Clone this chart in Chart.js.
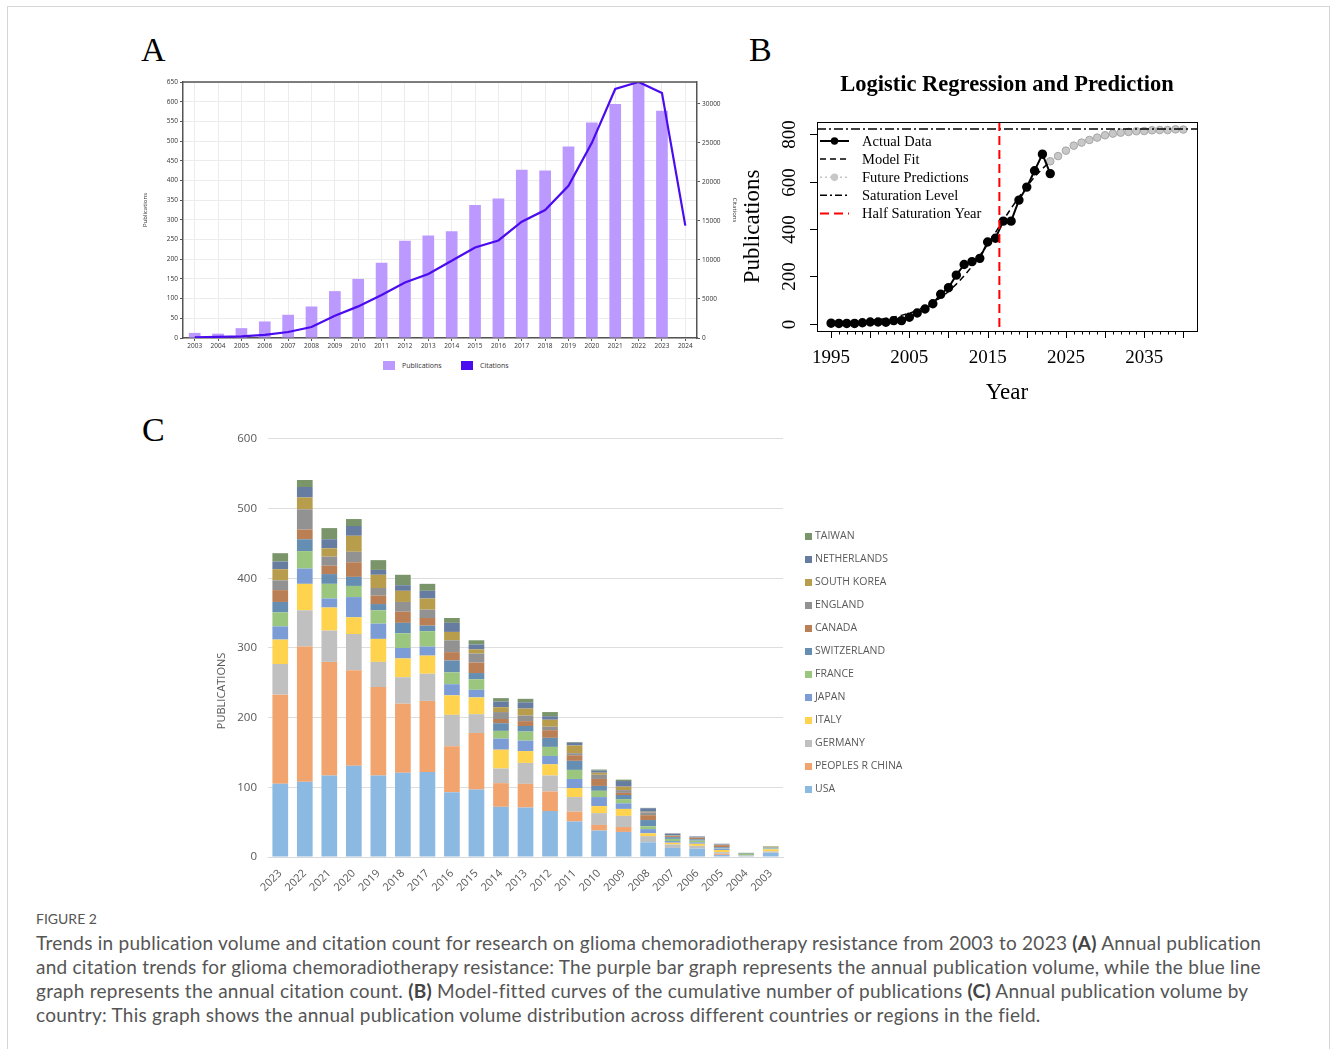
<!DOCTYPE html>
<html>
<head>
<meta charset="utf-8">
<script src="https://cdn.jsdelivr.net/npm/chart.js@4.4.1/dist/chart.umd.min.js"></script>
<style>
  body { margin: 0; background: #fff; width: 1330px; height: 1049px; overflow: hidden; position: relative; font-family: "Open Sans", sans-serif; }
  .frame { position: absolute; left: 7px; top: 6px; width: 1321px; height: 1100px; border: 1px solid #d6d6d6; }
  .letter { position: absolute; font-family: "Liberation Serif", serif; font-size: 34px; line-height: 1; color: #000; }
  canvas { display: block; position: absolute; }
  .legA { position: absolute; font-size: 7px; color: #333; line-height: 9px; }
  .legC { position: absolute; left: 805px; top: 524px; font-size: 10.5px; color: #595959; }
  .legC div { height: 23px; line-height: 23px; white-space: nowrap; }
  .legC span { display: inline-block; width: 7px; height: 7px; margin-right: 3px; vertical-align: -0.5px; }
  .cap { position: absolute; left: 36px; font-family: Lato, sans-serif; color: #555; white-space: nowrap; }
  .cap b { font-weight: 700; color: #444; }
</style>
</head>
<body>
<div class="frame"></div>
<div class="letter" style="left:141px;top:33px">A</div>
<div class="letter" style="left:749px;top:33px">B</div>
<div class="letter" style="left:142px;top:413px">C</div>

<canvas id="chartA" width="600" height="280" style="left:140px;top:74px"></canvas>
<div class="legA" style="left:383px;top:361px;width:12px;height:9px;background:#bb99ff"></div>
<div class="legA" style="left:402px;top:361px">Publications</div>
<div class="legA" style="left:461px;top:361px;width:12px;height:9px;background:#4b0bef"></div>
<div class="legA" style="left:480px;top:361px">Citations</div>

<canvas id="chartB" width="470" height="340" style="left:740px;top:70px"></canvas>

<canvas id="chartC" width="720" height="479" style="left:210px;top:421px"></canvas>
<div class="legC" id="legendC"></div>

<div class="cap" style="top:910px;font-size:14px;line-height:18px">FIGURE 2</div>
<div class="cap" style="top:931px;font-size:19px;line-height:24px;letter-spacing:0.25px">
  <div>Trends in publication volume and citation count for research on glioma chemoradiotherapy resistance from 2003 to 2023 <b>(A)</b> Annual publication</div>
  <div>and citation trends for glioma chemoradiotherapy resistance: The purple bar graph represents the annual publication volume, while the blue line</div>
  <div>graph represents the annual citation count. <b>(B)</b> Model-fitted curves of the cumulative number of publications <b>(C)</b> Annual publication volume by</div>
  <div>country: This graph shows the annual publication volume distribution across different countries or regions in the field.</div>
</div>

<script>
// ---------- Panel A: publications (bars) and citations (line) ----------
const yearsA = ['2003','2004','2005','2006','2007','2008','2009','2010','2011','2012','2013',
                '2014','2015','2016','2017','2018','2019','2020','2021','2022','2023','2024'];
const publicationsA = [13, 11, 25, 42, 59, 80, 119, 150, 191, 247, 260,
                       271, 338, 354, 427, 425, 486, 547, 594, 650, 577, null];
const citationsA = [80, 150, 220, 400, 770, 1400, 2850, 4050, 5500, 7100, 8200,
                    9900, 11600, 12500, 14900, 16400, 19500, 25000, 31900, 32800, 31400, 14400];
const citTicksA = [0, 5000, 10000, 15000, 20000, 25000, 30000];

// ---------- Panel B: logistic regression ----------
const actualYearsB = [1995,1996,1997,1998,1999,2000,2001,2002,2003,2004,2005,2006,2007,2008,2009,
                      2010,2011,2012,2013,2014,2015,2016,2017,2018,2019,2020,2021,2022,2023];
const actualB = [2, 1, 1, 1, 4, 7, 7, 6, 13, 13, 27, 45, 62, 84, 124,
                 152, 205, 250, 262, 276, 345, 361, 433, 433, 522, 577, 646, 716, 634];
const fitB = [4, 5, 6, 8, 10, 13, 17, 22, 28, 35, 44, 56, 71, 88, 110,
              136, 167, 202, 242, 287, 335, 385, 437, 487, 535, 580, 620, 655, 686];
const futureYearsB = [2023,2024,2025,2026,2027,2028,2029,2030,2031,2032,2033,2034,2035,2036,2037,2038,2039,2040];
const futureB = [686, 708, 731, 752, 765, 776, 786, 796, 803, 807, 810, 813, 814, 817, 818, 818, 821, 820];
const saturationB = 822;
const halfSatYearB = 2016.5;
const xLabelsB = [1995, 2005, 2015, 2025, 2035];
const yLabelsB = [0, 200, 400, 600, 800];

// ---------- Panel C: publications by country ----------
const yearsC = ['2023','2022','2021','2020','2019','2018','2017','2016','2015','2014','2013',
                '2012','2011','2010','2009','2008','2007','2006','2005','2004','2003'];
const countriesC = ['USA','PEOPLES R CHINA','GERMANY','ITALY','JAPAN','FRANCE',
                    'SWITZERLAND','CANADA','ENGLAND','SOUTH KOREA','NETHERLANDS','TAIWAN'];
const usaC         = [105,108,117,131,117,121,122, 93, 97, 72, 71, 66, 51, 38, 36, 21, 13, 12, 3,   1,   6];
const chinaC       = [128,194,163,137,127, 99,102, 66, 81, 34, 34, 28, 14,  8,  7,  0,  0,  0, 1.5, 0,   0];
const germanyC     = [ 44, 52, 45, 52, 36, 38, 39, 45, 27, 21, 30, 23, 21, 17, 16,  9,  5,  4, 2.5, 1,   2];
const italyC       = [ 35, 38, 33, 24, 33, 27, 26, 28, 24, 27, 17, 16, 13, 10, 10,  4,2.5,  3, 3,   0,   3];
const japanC       = [ 19, 22, 13, 29, 22, 15, 13, 16, 11, 16, 15, 12, 13, 13,  8,  6,2.5,  2, 2,   0.5, 1];
const franceC      = [ 20, 25, 21, 16, 19, 21, 22, 17, 15, 11, 13, 13, 13,  9,  6,  4,  3,2.5, 0.5, 2,   1];
const switzerlandC = [ 15, 17, 14, 13,  9, 15,  8, 17,  9, 11,  8, 13, 13,  7,  6,  9,2.5,  2, 1.5, 0,   0.5];
const canadaC      = [ 17, 14, 12, 21, 12, 16, 11, 12, 15,  6,  7, 11,  8, 10,  3,  7,1.5,  2, 3,   0,   0];
const englandC     = [ 14, 29, 13, 15, 11, 14, 12, 17, 13, 10,  8,  5,  3,  6,  4,  4,  1,  1, 1,   0,   0.5];
const southKoreaC  = [ 16, 17, 12, 23, 19, 16, 16, 12,  6,  7, 10, 10, 11,  3,  5,  1,0.5,  0, 0,   0,   1];
const netherlandsC = [ 11, 15, 13, 14,  7,  8, 11, 13,  7,  8,  9,  5,  4,  3,  8,  5,  2,  1, 1,   0.5, 0];
const taiwanC      = [ 12, 10, 16, 10, 14, 15, 10,  7,  6,  5,  5,  6,  1,1.5,  2,0.5,0.5,  0, 0,   1,   0.5];
const valuesC = [usaC, chinaC, germanyC, italyC, japanC, franceC, switzerlandC, canadaC,
                 englandC, southKoreaC, netherlandsC, taiwanC];
const colorsC = ['#8cb9e2','#f2a46f','#c0c0c0','#ffd34d','#7c9cd6','#9bc67e',
                 '#668eb2','#bb7f56','#929292','#b89d4c','#677ca1','#7b956b'];

Chart.defaults.font.family = '"Open Sans", sans-serif';
Chart.defaults.animation = false;

// line along the top of panel A's plot
const topBorder = {
  id: 'topBorder',
  afterDraw(chart) {
    const { ctx, chartArea: a } = chart;
    ctx.save();
    ctx.strokeStyle = '#555';
    ctx.lineWidth = 1.5;
    ctx.beginPath();
    ctx.moveTo(a.left, a.top);
    ctx.lineTo(a.right, a.top);
    ctx.stroke();
    ctx.restore();
  }
};

new Chart(document.getElementById('chartA'), {
  type: 'bar',
  data: {
    labels: yearsA,
    datasets: [
      { type: 'line', label: 'Citations', data: citationsA, yAxisID: 'y1',
        borderColor: '#4b0bef', borderWidth: 2.2, pointRadius: 0, tension: 0 },
      { label: 'Publications', data: publicationsA, yAxisID: 'y',
        backgroundColor: '#bb99ff', barPercentage: 0.5, categoryPercentage: 1 }
    ]
  },
  options: {
    responsive: false,
    devicePixelRatio: 1,
    layout: { padding: { top: 8, left: 0, right: 0, bottom: 0 } },
    plugins: { legend: { display: false }, tooltip: { enabled: false } },
    scales: {
      x: {
        grid: { offset: false, color: '#ececec', tickLength: 3, tickColor: '#555' },
        border: { color: '#555', width: 1.5 },
        ticks: { font: { size: 6.5 }, color: '#333', maxRotation: 0, autoSkip: false, padding: 1 },
        afterFit: s => { s.height = 16; }
      },
      y: {
        min: 0, max: 650,
        ticks: { stepSize: 50, font: { size: 6.5 }, color: '#333', padding: 2 },
        grid: { color: '#ececec', tickLength: 3, tickColor: '#555' },
        border: { color: '#555', width: 1.5 },
        title: { display: true, text: 'Publications', font: { size: 6 }, color: '#333', padding: 2 },
        afterFit: s => { s.width = 43; }
      },
      y1: {
        position: 'right', min: 0, max: 32800,
        afterBuildTicks: s => { s.ticks = citTicksA.map(v => ({ value: v })); },
        ticks: { font: { size: 6.5 }, color: '#333', padding: 2, callback: v => String(v) },
        grid: { drawOnChartArea: false, tickLength: 3, tickColor: '#555' },
        border: { color: '#555', width: 1.5 },
        title: { display: true, text: 'Citations', font: { size: 6 }, color: '#333', padding: 2 },
        afterFit: s => { s.width = 43; }
      }
    }
  },
  plugins: [topBorder]
});

// ---------- Panel B ----------
const serif = '"Liberation Serif", "Times New Roman", serif';
const toXY = (xs, ys) => xs.map((v, i) => ({ x: v, y: ys[i] }));

const baseR = {
  id: 'baseR',
  afterDatasetsDraw(chart) {
    const { ctx, chartArea: a, scales: { x, y } } = chart;
    ctx.save();
    // saturation level
    const ys = y.getPixelForValue(saturationB);
    ctx.strokeStyle = '#000';
    ctx.lineWidth = 1.5;
    ctx.setLineDash([9, 3, 2, 3]);
    ctx.beginPath(); ctx.moveTo(a.left, ys); ctx.lineTo(a.right, ys); ctx.stroke();
    // half saturation year
    const xh = x.getPixelForValue(halfSatYearB);
    ctx.strokeStyle = '#ff0000';
    ctx.lineWidth = 2;
    ctx.setLineDash([9, 5]);
    ctx.beginPath(); ctx.moveTo(xh, a.top); ctx.lineTo(xh, a.bottom); ctx.stroke();
    ctx.restore();
  },
  afterDraw(chart) {
    const { ctx, chartArea: a, scales: { x, y } } = chart;
    ctx.save();
    ctx.setLineDash([]);
    ctx.strokeStyle = '#000';
    ctx.lineWidth = 1;
    ctx.strokeRect(Math.round(a.left) + 0.5, Math.round(a.top) + 0.5,
                   Math.round(a.right - a.left), Math.round(a.bottom - a.top));
    // x ticks: every year, longer every 5
    for (let yr = 1995; yr <= 2040; yr++) {
      const px = Math.round(x.getPixelForValue(yr)) + 0.5;
      const len = yr % 5 === 0 ? 7 : 3.5;
      ctx.beginPath(); ctx.moveTo(px, a.bottom); ctx.lineTo(px, a.bottom + len); ctx.stroke();
    }
    ctx.fillStyle = '#000';
    ctx.font = '19px ' + serif;
    ctx.textAlign = 'center';
    ctx.textBaseline = 'middle';
    xLabelsB.forEach(v => ctx.fillText(String(v), x.getPixelForValue(v), a.bottom + 27));
    // y ticks with rotated labels
    yLabelsB.forEach(v => {
      const py = Math.round(y.getPixelForValue(v)) + 0.5;
      ctx.beginPath(); ctx.moveTo(a.left, py); ctx.lineTo(a.left - 7, py); ctx.stroke();
      ctx.save();
      ctx.translate(a.left - 27, py);
      ctx.rotate(-Math.PI / 2);
      ctx.fillText(String(v), 0, 0);
      ctx.restore();
    });
    // axis titles and main title
    ctx.font = '23px ' + serif;
    ctx.fillText('Year', (a.left + a.right) / 2, 323);
    ctx.save();
    ctx.translate(13, (a.top + a.bottom) / 2);
    ctx.rotate(-Math.PI / 2);
    ctx.fillText('Publications', 0, 0);
    ctx.restore();
    ctx.font = 'bold 22.5px ' + serif;
    ctx.fillText('Logistic Regression and Prediction', (a.left + a.right) / 2, 15);

    // legend
    const items = [
      { text: 'Actual Data', color: '#000', width: 2, dash: [], point: '#000' },
      { text: 'Model Fit', color: '#000', width: 1.5, dash: [6, 4] },
      { text: 'Future Predictions', color: '#c4c4c4', width: 1.5, dash: [2, 3], point: '#c8c8c8' },
      { text: 'Saturation Level', color: '#000', width: 1.5, dash: [7, 3, 2, 3] },
      { text: 'Half Saturation Year', color: '#ff0000', width: 2, dash: [9, 5] }
    ];
    ctx.font = '14.5px ' + serif;
    ctx.textAlign = 'left';
    items.forEach((it, i) => {
      const ly = a.top + 19 + i * 18.1;
      const x0 = a.left + 3, x1 = a.left + 32;
      ctx.strokeStyle = it.color;
      ctx.lineWidth = it.width;
      ctx.setLineDash(it.dash);
      ctx.beginPath(); ctx.moveTo(x0, ly); ctx.lineTo(x1, ly); ctx.stroke();
      ctx.setLineDash([]);
      if (it.point) {
        ctx.fillStyle = it.point;
        ctx.beginPath(); ctx.arc((x0 + x1) / 2, ly, 3.7, 0, Math.PI * 2); ctx.fill();
      }
      ctx.fillStyle = '#000';
      ctx.fillText(it.text, a.left + 45, ly + 1);
    });
    ctx.restore();
  }
};

new Chart(document.getElementById('chartB'), {
  type: 'scatter',
  data: {
    datasets: [
      { label: 'Actual Data', data: toXY(actualYearsB, actualB), showLine: true,
        borderColor: '#000', borderWidth: 2, pointRadius: 3.7,
        pointBackgroundColor: '#000', pointBorderColor: '#000' },
      { label: 'Model Fit', data: toXY(actualYearsB, fitB), showLine: true,
        borderColor: '#000', borderWidth: 1.5, borderDash: [6, 4], pointRadius: 0 },
      { label: 'Future Predictions', data: toXY(futureYearsB, futureB), showLine: true,
        borderColor: '#c4c4c4', borderWidth: 1.2, borderDash: [2, 3], pointRadius: 3.8,
        pointBackgroundColor: '#c8c8c8', pointBorderColor: '#a6a6a6', pointBorderWidth: 1 }
    ]
  },
  options: {
    responsive: false,
    devicePixelRatio: 1,
    layout: { padding: { left: 77, right: 13, top: 52, bottom: 79 } },
    plugins: { legend: { display: false }, tooltip: { enabled: false } },
    scales: {
      x: { type: 'linear', min: 1993.2, max: 2041.75, display: false },
      y: { min: -31, max: 852, display: false }
    }
  },
  plugins: [baseR]
});

// ---------- Panel C ----------
const yTitleC = {
  id: 'yTitleC',
  afterDraw(chart) {
    const { ctx, chartArea: a } = chart;
    ctx.save();
    ctx.fillStyle = '#595959';
    ctx.font = '11px "Open Sans", sans-serif';
    ctx.textAlign = 'center';
    ctx.textBaseline = 'middle';
    ctx.translate(12, (a.top + a.bottom) / 2 + 43);
    ctx.rotate(-Math.PI / 2);
    ctx.fillText('PUBLICATIONS', 0, 0);
    ctx.restore();
  }
};

new Chart(document.getElementById('chartC'), {
  type: 'bar',
  data: {
    labels: yearsC,
    datasets: countriesC.map((name, i) => ({
      label: name, data: valuesC[i], backgroundColor: colorsC[i],
      barPercentage: 0.64, categoryPercentage: 1
    }))
  },
  options: {
    responsive: false,
    devicePixelRatio: 1,
    layout: { padding: { top: 0, right: 147, left: 0, bottom: 0 } },
    plugins: { legend: { display: false }, tooltip: { enabled: false } },
    scales: {
      x: {
        stacked: true,
        grid: { display: false },
        border: { color: '#d9d9d9' },
        ticks: { font: { size: 11 }, color: '#595959', minRotation: 45, maxRotation: 45, autoSkip: false, padding: 2 },
        afterFit: s => { s.height = 43; }
      },
      y: {
        stacked: true, min: 0, max: 600,
        ticks: { stepSize: 100, font: { size: 11.5 }, color: '#595959', padding: 11 },
        grid: { color: '#dedede', drawTicks: false },
        border: { display: false },
        afterFit: s => { s.width = 58; }
      }
    }
  },
  plugins: [yTitleC]
});

// legend for panel C, top row is the last series
const legendC = document.getElementById('legendC');
countriesC.slice().reverse().forEach((name, k) => {
  const i = countriesC.length - 1 - k;
  const row = document.createElement('div');
  row.innerHTML = '<span style="background:' + colorsC[i] + '"></span>' + name;
  legendC.appendChild(row);
});
</script>
</body>
</html>
